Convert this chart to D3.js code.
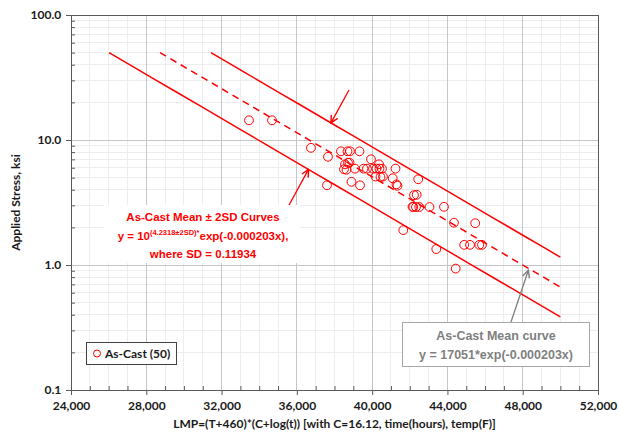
<!DOCTYPE html>
<html>
<head>
<meta charset="utf-8">
<script src="https://cdn.jsdelivr.net/npm/d3@7"></script>
<style>
  html, body { margin: 0; padding: 0; background: #fff; }
  svg { display: block; }
</style>
</head>
<body>
<svg id="chart" width="618" height="441"></svg>
<script>
// Larson-Miller parameter vs applied stress for as-cast specimens
const lmp = [33457, 34679, 36751, 37654, 37601, 38345, 38690, 38823, 39328, 38717,
             38558, 39939, 40364, 38504, 38637, 39089, 39541, 39726, 40045, 40231,
             40391, 40523, 40178, 40577, 38903, 39355, 41241, 41092, 41294, 41347,
             42447, 42224, 42367, 42186, 42330, 42505, 43047, 43817, 41655, 44349,
             45475, 43408, 44891, 45199, 45693, 45836, 44439, 38797, 42144, 40444];
const stress = [14.37, 14.37, 8.66, 7.34, 4.34, 8.12, 8.12, 8.12, 8.12, 6.57,
                6.39, 7.01, 6.39, 5.83, 5.78, 5.90, 5.90, 5.90, 5.90, 5.90,
                5.90, 5.90, 5.10, 5.10, 4.63, 4.34, 5.90, 4.94, 4.42, 4.30,
                4.85, 3.62, 3.65, 2.91, 2.91, 2.91, 2.91, 2.92, 1.90, 2.18,
                2.16, 1.34, 1.45, 1.45, 1.45, 1.45, 0.936, 6.60, 2.92, 5.05];

const xTickValues = [24000, 28000, 32000, 36000, 40000, 44000, 48000, 52000];
const yTickValues = [0.1, 1, 10, 100];
const yTickLabels = ["0.1", "1.0", "10.0", "100.0"];

// Fitted curve constants: y = 10^(logA ± 2SD) * exp(-rate * x)
const meanCoef = 17051;
const logA = 4.2318;
const sd = 0.11934;
const rate = 0.000203;
const curveStartStress = 50;
const curveEndLmp = 50000;

const legendLabel = "As-Cast (50)";
const xTitle = "LMP=(T+460)*(C+log(t)) [with C=16.12, time(hours), temp(F)]";
const yTitle = "Applied Stress, ksi";

const svg = d3.select("#chart");
svg.append("rect").attr("width", 618).attr("height", 441).attr("fill", "#fff");

const L = 71, R = 598, T = 15, B = 390;
const x = d3.scaleLinear().domain([24000, 52000]).range([L, R]);
const y = d3.scaleLog().domain([0.1, 100]).range([B, T]);

const axisFont = "Lato, 'Open Sans', sans-serif";
const noteFont = "'Liberation Sans', Arial, sans-serif";
const red = "#ff0000";

// Grid
const grid = svg.append("g");
const minorX = d3.range(24000, 52001, 1000).filter(v => v % 4000 !== 0);
grid.selectAll(".gxm").data(minorX).join("line")
  .attr("x1", d => x(d)).attr("x2", d => x(d)).attr("y1", T).attr("y2", B)
  .attr("stroke", "#ededed").attr("stroke-width", 1).attr("shape-rendering", "crispEdges");
const minorY = [];
[0.1, 1, 10].forEach(dec => { for (let k = 2; k <= 9; k++) minorY.push(dec * k); });
grid.selectAll(".gym").data(minorY).join("line")
  .attr("x1", L).attr("x2", R).attr("y1", d => y(d)).attr("y2", d => y(d))
  .attr("stroke", "#ededed").attr("stroke-width", 1).attr("shape-rendering", "crispEdges");
grid.selectAll(".gx").data(xTickValues.slice(1, -1)).join("line")
  .attr("x1", d => x(d)).attr("x2", d => x(d)).attr("y1", T).attr("y2", B)
  .attr("stroke", "#c6c6c6").attr("stroke-width", 1).attr("shape-rendering", "crispEdges");
grid.selectAll(".gy").data([1, 10]).join("line")
  .attr("x1", L).attr("x2", R).attr("y1", d => y(d)).attr("y2", d => y(d))
  .attr("stroke", "#c6c6c6").attr("stroke-width", 1).attr("shape-rendering", "crispEdges");

// Axes
const axisColor = "#595959";
const xAxis = svg.append("g").attr("transform", `translate(0,${B})`)
  .call(d3.axisBottom(x).tickValues(xTickValues).tickSize(5).tickFormat(d3.format(",")));
const xMinor = svg.append("g").attr("transform", `translate(0,${B})`)
  .call(d3.axisTop(x).tickValues(minorX).tickSize(4).tickFormat(""));
const yAxis = svg.append("g").attr("transform", `translate(${L},0)`)
  .call(d3.axisLeft(y).tickValues(yTickValues).tickSize(5).tickFormat((d, i) => yTickLabels[i]));
const yMinor = svg.append("g").attr("transform", `translate(${L},0)`)
  .call(d3.axisRight(y).tickValues(minorY).tickSize(4).tickFormat(""));
[xAxis, xMinor, yAxis, yMinor].forEach(g => {
  g.select(".domain").attr("stroke", axisColor);
  g.selectAll(".tick line").attr("stroke", axisColor);
});
xMinor.select(".domain").remove();
yMinor.select(".domain").remove();
xAxis.selectAll(".tick text").attr("dy", "1.0em")
  .attr("font-family", axisFont).attr("font-weight", 700).attr("font-size", 12).attr("fill", "#1a1a1a");
yAxis.selectAll(".tick text").attr("dx", "-0.15em")
  .attr("font-family", axisFont).attr("font-weight", 700).attr("font-size", 12).attr("fill", "#1a1a1a");
// plot frame top/right
svg.append("path").attr("d", `M${L},${T}H${R}V${B}`).attr("fill", "none")
  .attr("stroke", axisColor).attr("stroke-width", 1).attr("shape-rendering", "crispEdges");

// Axis titles
svg.append("text").attr("x", (L + R) / 2).attr("y", 428).attr("text-anchor", "middle")
  .attr("font-family", axisFont).attr("font-weight", 700).attr("font-size", 12).attr("fill", "#1a1a1a")
  .text(xTitle);
svg.append("text").attr("transform", `translate(20,${(T + B) / 2}) rotate(-90)`)
  .attr("text-anchor", "middle")
  .attr("font-family", axisFont).attr("font-weight", 700).attr("font-size", 12).attr("fill", "#1a1a1a")
  .text(yTitle);

// Curves
const meanCurve = v => meanCoef * Math.exp(-rate * v);
const upperCoef = Math.pow(10, logA + 2 * sd);
const lowerCoef = Math.pow(10, logA - 2 * sd);
const curves = [
  { coef: upperCoef, dash: null },
  { coef: meanCoef, dash: "7,5" },
  { coef: lowerCoef, dash: null }
];
const line = d3.line().x(d => x(d[0])).y(d => y(d[1]));
curves.forEach(c => {
  const x0 = Math.log(c.coef / curveStartStress) / rate;
  const pts = d3.range(0, 21).map(i => {
    const v = x0 + (curveEndLmp - x0) * i / 20;
    return [v, c.coef * Math.exp(-rate * v)];
  });
  svg.append("path").datum(pts).attr("d", line)
    .attr("fill", "none").attr("stroke", red).attr("stroke-width", 1.5)
    .attr("stroke-dasharray", c.dash);
});

// Data points
svg.append("g").selectAll("circle").data(lmp).join("circle")
  .attr("cx", d => x(d)).attr("cy", (d, i) => y(stress[i])).attr("r", 4.4)
  .attr("fill", "none").attr("stroke", red).attr("stroke-width", 1);

// Arrow markers
const defs = svg.append("defs");
function marker(id, color) {
  defs.append("marker").attr("id", id).attr("viewBox", "0 0 10 10")
    .attr("refX", 9).attr("refY", 5).attr("markerWidth", 9).attr("markerHeight", 9)
    .attr("markerUnits", "userSpaceOnUse").attr("orient", "auto")
    .append("path").attr("d", "M1,1 L9,5 L1,9").attr("fill", "none")
    .attr("stroke", color).attr("stroke-width", 1.6);
}
marker("arrRed", red);
marker("arrGray", "#7f7f7f");

// Red arrows toward the ±2SD curves
const upTipX = 37814, lowTipX = 36619, meanTipX = 48300;
svg.append("line").attr("x1", 349).attr("y1", 90)
  .attr("x2", x(upTipX)).attr("y2", y(upperCoef * Math.exp(-rate * upTipX)))
  .attr("stroke", red).attr("stroke-width", 1.3).attr("marker-end", "url(#arrRed)");
svg.append("line").attr("x1", 288).attr("y1", 207)
  .attr("x2", x(lowTipX)).attr("y2", y(lowerCoef * Math.exp(-rate * lowTipX)))
  .attr("stroke", red).attr("stroke-width", 1.3).attr("marker-end", "url(#arrRed)");

// ±2SD note
svg.append("rect").attr("x", 104).attr("y", 205).attr("width", 196).attr("height", 58).attr("fill", "#fff");
const note = svg.append("g").attr("font-family", noteFont).attr("font-weight", 700)
  .attr("font-size", 11.5).attr("fill", red).attr("text-anchor", "middle");
note.append("text").attr("x", 203).attr("y", 221).text("As-Cast Mean ± 2SD Curves");
const eq = note.append("text").attr("x", 203).attr("y", 240);
eq.append("tspan").text("y = 10");
eq.append("tspan").attr("font-size", 7.5).attr("dy", -5).text("(4.2318±2SD)*");
eq.append("tspan").attr("dy", 5).text("exp(-0.000203x),");
note.append("text").attr("x", 203).attr("y", 258).text("where SD = " + sd);

// Mean curve callout
svg.append("line").attr("x1", 511).attr("y1", 322)
  .attr("x2", x(meanTipX)).attr("y2", y(meanCurve(meanTipX)) + 2)
  .attr("stroke", "#7f7f7f").attr("stroke-width", 1.3).attr("marker-end", "url(#arrGray)");
svg.append("rect").attr("x", 402.5).attr("y", 322.5).attr("width", 187).attr("height", 44)
  .attr("fill", "#fff").attr("stroke", "#a6a6a6").attr("stroke-width", 1);
const callout = svg.append("g").attr("font-family", noteFont).attr("font-weight", 700)
  .attr("font-size", 12.5).attr("fill", "#7f7f7f").attr("text-anchor", "middle");
callout.append("text").attr("x", 496).attr("y", 340).text("As-Cast Mean curve");
callout.append("text").attr("x", 496).attr("y", 359).text(`y = ${meanCoef}*exp(-${rate.toFixed(6)}x)`);

// Legend
svg.append("rect").attr("x", 86.5).attr("y", 342.5).attr("width", 90).attr("height", 22)
  .attr("fill", "#fff").attr("stroke", "#404040").attr("stroke-width", 1);
svg.append("circle").attr("cx", 97).attr("cy", 353.5).attr("r", 3.5)
  .attr("fill", "none").attr("stroke", red).attr("stroke-width", 1);
svg.append("text").attr("x", 105).attr("y", 358).attr("font-family", axisFont)
  .attr("font-weight", 700).attr("font-size", 12).attr("fill", "#1a1a1a").text(legendLabel);
</script>
</body>
</html>
